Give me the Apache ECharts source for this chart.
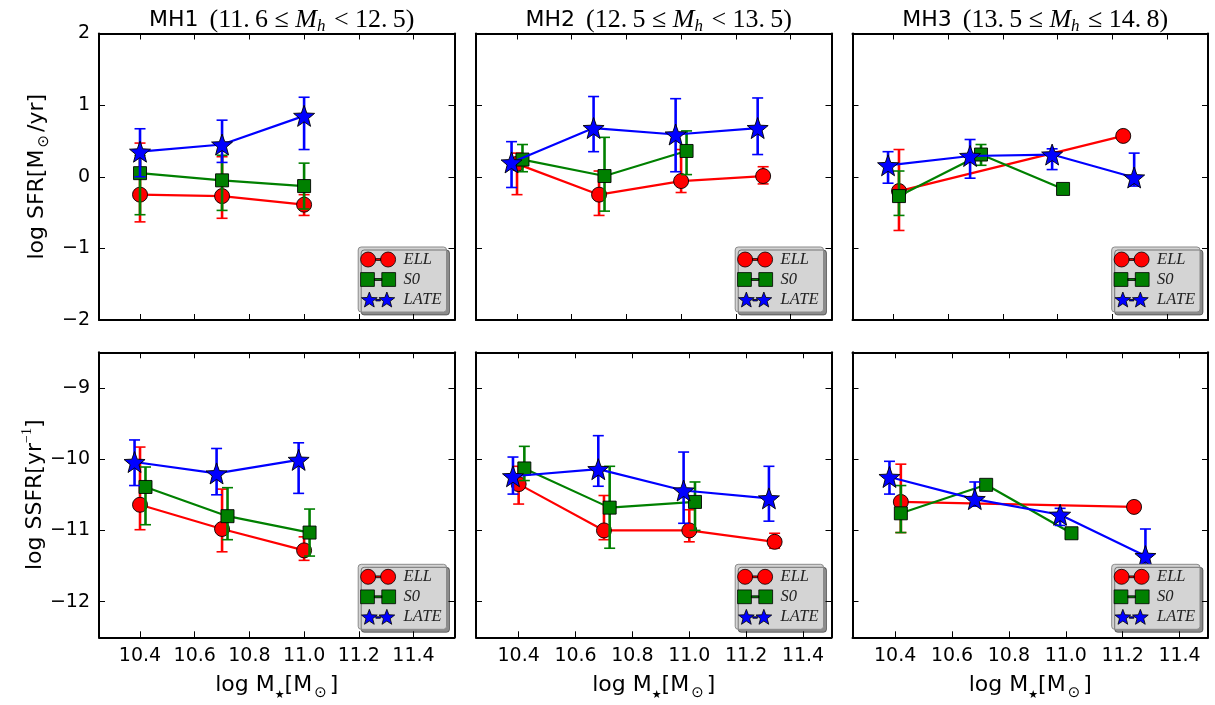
<!DOCTYPE html>
<html><head><meta charset="utf-8">
<script src="https://cdn.jsdelivr.net/npm/echarts@6/dist/echarts.min.js"></script>
<style>html,body{margin:0;padding:0;background:#fff}#c{width:1215px;height:705px}</style>
</head><body><div id="c"></div>
<script>
// ---------------- DATA (x, y, lower bound, upper bound) ----------------
const typeNames = ['ELL', 'S0', 'LATE'];
const titleBins = [['MH1', '11.6', '<', '12.5'], ['MH2', '12.5', '<', '13.5'], ['MH3', '13.5', '\u2264', '14.8']];
const xTickValues = [10.4, 10.6, 10.8, 11.0, 11.2, 11.4];
const sfrTickValues = [-2, -1, 0, 1, 2];
const ssfrTickValues = [-12, -11, -10, -9];

// top row: log SFR
const sfrMH1_ELL  = [[10.40, -0.25, -0.63, 0.47], [10.70, -0.27, -0.58, 0.28], [11.00, -0.39, -0.54, -0.25]];
const sfrMH1_S0   = [[10.40, 0.05, -0.53, 0.30], [10.70, -0.05, -0.47, 0.30], [11.00, -0.13, -0.45, 0.19]];
const sfrMH1_LATE = [[10.40, 0.35, 0.00, 0.67], [10.70, 0.45, 0.20, 0.79], [11.00, 0.85, 0.38, 1.11]];

const sfrMH2_ELL  = [[10.40, 0.18, -0.25, 0.33], [10.70, -0.25, -0.54, 0.08], [11.00, -0.06, -0.22, 0.38], [11.30, 0.01, -0.10, 0.14]];
const sfrMH2_S0   = [[10.42, 0.24, 0.07, 0.45], [10.72, 0.01, -0.48, 0.55], [11.02, 0.36, 0.03, 0.64]];
const sfrMH2_LATE = [[10.38, 0.20, -0.15, 0.49], [10.68, 0.68, 0.35, 1.12], [10.98, 0.59, 0.07, 1.09], [11.28, 0.68, 0.31, 1.10]];

const sfrMH3_ELL  = [[10.42, -0.20, -0.75, 0.38], [11.24, 0.57, null, null]];
const sfrMH3_S0   = [[10.42, -0.27, -0.54, 0.08], [10.72, 0.31, 0.16, 0.45], [11.02, -0.17, null, null]];
const sfrMH3_LATE = [[10.38, 0.16, -0.09, 0.35], [10.68, 0.29, -0.02, 0.52], [10.98, 0.31, 0.10, 0.39], [11.28, -0.01, -0.13, 0.33]];

// bottom row: log SSFR
const ssfrMH1_ELL  = [[10.40, -10.64, -10.99, -9.83], [10.70, -10.98, -11.30, -10.42], [11.00, -11.28, -11.42, -11.09]];
const ssfrMH1_S0   = [[10.42, -10.39, -10.92, -10.11], [10.72, -10.80, -11.13, -10.40], [11.02, -11.03, -11.36, -10.70]];
const ssfrMH1_LATE = [[10.38, -10.04, -10.37, -9.73], [10.68, -10.20, -10.50, -9.85], [10.98, -10.01, -10.48, -9.77]];

const ssfrMH2_ELL  = [[10.40, -10.35, -10.63, -10.10], [10.70, -11.00, -11.13, -10.51], [11.00, -11.00, -11.16, -10.71], [11.30, -11.16, -11.25, -11.04]];
const ssfrMH2_S0   = [[10.42, -10.13, -10.30, -9.82], [10.72, -10.68, -11.25, -10.10], [11.02, -10.60, -11.00, -10.32]];
const ssfrMH2_LATE = [[10.38, -10.24, -10.49, -9.97], [10.68, -10.14, -10.38, -9.67], [10.98, -10.44, -10.90, -9.90], [11.28, -10.55, -10.87, -10.10]];

const ssfrMH3_ELL  = [[10.42, -10.60, -11.03, -10.07], [11.24, -10.67, null, null]];
const ssfrMH3_S0   = [[10.42, -10.76, -11.03, -10.37], [10.72, -10.36, null, null], [11.02, -11.04, null, null]];
const ssfrMH3_LATE = [[10.38, -10.25, -10.49, -10.03], [10.68, -10.56, -10.66, -10.32], [10.98, -10.78, -10.93, -10.69], [11.28, -11.36, -11.55, -10.98]];

const panelData = [
  [sfrMH1_ELL, sfrMH1_S0, sfrMH1_LATE],
  [sfrMH2_ELL, sfrMH2_S0, sfrMH2_LATE],
  [sfrMH3_ELL, sfrMH3_S0, sfrMH3_LATE],
  [ssfrMH1_ELL, ssfrMH1_S0, ssfrMH1_LATE],
  [ssfrMH2_ELL, ssfrMH2_S0, ssfrMH2_LATE],
  [ssfrMH3_ELL, ssfrMH3_S0, ssfrMH3_LATE]
];
const xRanges = [[10.25, 11.55], [10.25, 11.55], [10.25, 11.55], [10.25, 11.55], [10.25, 11.5], [10.25, 11.5]];
const yRanges = [[-2, 2], [-2, 2], [-2, 2], [-12.5, -8.5], [-12.5, -8.5], [-12.5, -8.5]];

// ---------------- STYLE / LAYOUT ----------------
const colors = ['#ff0000', '#008000', '#0000ff'];
const colLeft = [99, 476, 852.5];
const panelW = 355.5;
const rowTop = [33.5, 352.3];
const panelH = [286.5, 285];

function starPts(cx, cy, R, r) {
  const pts = [];
  for (let i = 0; i < 10; i++) {
    const a = -Math.PI / 2 + i * Math.PI / 5;
    const rad = i % 2 === 0 ? R : r;
    pts.push([cx + rad * Math.cos(a), cy + rad * Math.sin(a)]);
  }
  return 'M' + pts.map(p => p[0].toFixed(2) + ',' + p[1].toFixed(2)).join('L') + 'Z';
}
const starSymbol = 'path://' + starPts(10, 10, 10, 4.2);
const symbols = ['circle', 'rect', starSymbol];
const symbolSizes = [15, 13, 21];

const legendIcons = [
  'path://M0,7.5A7.5,7.5,0,1,1,15,7.5A7.5,7.5,0,1,1,0,7.5Z M20,7.5A7.5,7.5,0,1,1,35,7.5A7.5,7.5,0,1,1,20,7.5Z M15,6.6L20,6.6L20,8.4L15,8.4Z',
  'path://M1,1L14,1L14,14L1,14Z M21,1L34,1L34,14L21,14Z M14,6.6L21,6.6L21,8.4L14,8.4Z',
  'path://' + starPts(8, 8.5, 9, 3.8) + ' ' + starPts(27, 8.5, 9, 3.8) + ' M15,7.6L20,7.6L20,9.2L15,9.2Z'
];

const fmtNum = v => (v < 0 ? '\u2212' + Math.abs(v) : String(v));

const grids = [], xAxes = [], yAxes = [], series = [], titles = [], legends = [];
const axisLineStyle = { show: true, onZero: false, lineStyle: { color: '#000', width: 2 } };
const tickStyle = { show: true, inside: true, length: 6, lineStyle: { color: '#000', width: 1 } };

const richMain = { fontFamily: 'DejaVu Sans', fontSize: 22, fontWeight: 'normal', color: '#000', lineHeight: 30, verticalAlign: 'middle' };

for (let p = 0; p < 6; p++) {
  const row = p < 3 ? 0 : 1, col = p % 3;
  const left = colLeft[col], top = rowTop[row], h = panelH[row];
  grids.push({ left: left, top: top, width: panelW, height: h, show: false });
  const isBottom = row === 1, isLeft = col === 0;
  const yTicks = row === 0 ? sfrTickValues : ssfrTickValues;
  // bottom x
  xAxes.push({
    type: 'value', gridIndex: p, position: 'bottom', min: xRanges[p][0], max: xRanges[p][1],
    axisLine: axisLineStyle, splitLine: { show: false },
    axisTick: Object.assign({ customValues: xTickValues }, tickStyle),
    axisLabel: { show: isBottom, customValues: xTickValues, formatter: v => v.toFixed(1), fontFamily: 'DejaVu Sans', fontSize: 19, color: '#000', margin: 9 },
    name: isBottom ? '{a|log M}{s|\u2605}{a|[M}{o|\u2299}{a|]}' : '', nameLocation: 'middle', nameGap: 33,
    nameTextStyle: { rich: { a: richMain, s: { fontFamily: 'DejaVu Sans', fontSize: 11, color: '#000', lineHeight: 14, verticalAlign: 'bottom' }, o: { fontFamily: 'DejaVu Sans', fontSize: 15, color: '#000', lineHeight: 16, verticalAlign: 'bottom', padding: [0, 3, 0, 2] } } }
  });
  // top x
  xAxes.push({
    type: 'value', gridIndex: p, position: 'top', min: xRanges[p][0], max: xRanges[p][1],
    axisLine: axisLineStyle, splitLine: { show: false },
    axisTick: Object.assign({ customValues: xTickValues }, tickStyle),
    axisLabel: { show: false }
  });
  // left y
  let yName = '';
  if (isLeft) {
    yName = row === 0 ? '{a|log SFR[M}{o|\u2299}{a|/yr]}' : '{a|log SSFR[yr}{u|\u22121}{a|]}';
  }
  yAxes.push({
    type: 'value', gridIndex: p, position: 'left', min: yRanges[p][0], max: yRanges[p][1],
    axisLine: axisLineStyle, splitLine: { show: false },
    axisTick: Object.assign({ customValues: yTicks }, tickStyle),
    axisLabel: { show: isLeft, customValues: yTicks, formatter: fmtNum, fontFamily: 'DejaVu Sans', fontSize: 19, color: '#000', margin: 9 },
    name: yName, nameLocation: 'middle', nameRotate: 90, nameGap: 47,
    nameTextStyle: { rich: { a: richMain, o: { fontFamily: 'DejaVu Sans', fontSize: 15, color: '#000', lineHeight: 16, verticalAlign: 'bottom', padding: [0, 3, 0, 2] }, u: { fontFamily: 'Liberation Serif', fontSize: 14, color: '#000', lineHeight: 14, verticalAlign: 'top' } } }
  });
  // right y
  yAxes.push({
    type: 'value', gridIndex: p, position: 'right', min: yRanges[p][0], max: yRanges[p][1],
    axisLine: axisLineStyle, splitLine: { show: false },
    axisTick: Object.assign({ customValues: yTicks }, tickStyle),
    axisLabel: { show: false }
  });

  // series
  for (let t = 0; t < 3; t++) {
    const rows = panelData[p][t];
    const color = colors[t];
    const errRows = rows.filter(r => r[2] != null && r[3] != null).map(r => [r[0], r[2], r[3]]);
    series.push({
      type: 'custom', name: typeNames[t] + ' err', xAxisIndex: 2 * p, yAxisIndex: 2 * p, z: 2 + 2 * t,
      data: errRows, encode: { x: 0, y: [1, 2] }, silent: true,
      renderItem: (params, api) => {
        const x = api.value(0), lo = api.value(1), hi = api.value(2);
        const a = api.coord([x, lo]), b = api.coord([x, hi]);
        const cw = 5.5;
        const st = { stroke: color, lineWidth: 2.6 };
        const st2 = { stroke: color, lineWidth: 1.6 };
        return {
          type: 'group', children: [
            { type: 'line', shape: { x1: a[0], y1: a[1], x2: b[0], y2: b[1] }, style: st },
            { type: 'line', shape: { x1: a[0] - cw, y1: a[1], x2: a[0] + cw, y2: a[1] }, style: st2 },
            { type: 'line', shape: { x1: b[0] - cw, y1: b[1], x2: b[0] + cw, y2: b[1] }, style: st2 }
          ]
        };
      }
    });
    series.push({
      type: 'line', name: typeNames[t], xAxisIndex: 2 * p, yAxisIndex: 2 * p, z: 3 + 2 * t,
      data: rows.map(r => [r[0], r[1]]),
      symbol: symbols[t], symbolSize: symbolSizes[t], showSymbol: true, animation: false,
      itemStyle: { color: color, borderColor: '#000', borderWidth: 0.9, opacity: 1 },
      lineStyle: { color: color, width: 2.2 },
      emphasis: { disabled: true }, silent: true
    });
  }

  // title (top row)
  if (row === 0) {
    const tb = titleBins[col];
    titles.push({
      left: left + panelW / 2, top: 0, textAlign: 'center',
      text: '{a|' + tb[0] + '\u2002}{b|(' + tb[1].replace('.', '.\u2009') + ' \u2264 }{c|M}{d|h}{b| ' + tb[2] + ' ' + tb[3].replace('.', '.\u2009') + ')}',
      textStyle: {
        fontWeight: 'normal',
        rich: {
          a: { fontFamily: 'DejaVu Sans', fontSize: 22, fontWeight: 'normal', color: '#000', lineHeight: 30, verticalAlign: 'middle' },
          b: { fontFamily: 'Liberation Serif', fontSize: 26, fontWeight: 'normal', color: '#000', lineHeight: 30, verticalAlign: 'middle' },
          c: { fontFamily: 'Liberation Serif', fontStyle: 'italic', fontSize: 26, fontWeight: 'normal', color: '#000', lineHeight: 30, verticalAlign: 'middle' },
          d: { fontFamily: 'Liberation Serif', fontStyle: 'italic', fontSize: 17, fontWeight: 'normal', color: '#000', lineHeight: 14, verticalAlign: 'bottom', padding: [0, 2, 0, 0] }
        }
      }
    });
  }

  // legend
  legends.push({
    right: 1215 - (left + panelW - 8), bottom: 705 - (top + h - 8),
    orient: 'vertical', itemWidth: 35, itemHeight: 15, itemGap: 3,
    padding: [4, 5, 4, 2], z: 20, selectedMode: false,
    backgroundColor: '#d4d4d4', borderColor: '#8a8a8a', borderWidth: 1, borderRadius: 3,
    shadowColor: 'rgba(0,0,0,0.45)', shadowBlur: 0, shadowOffsetX: 3, shadowOffsetY: 3,
    itemStyle: { borderColor: '#000', borderWidth: 0.8 },
    textStyle: { fontFamily: 'Liberation Serif', fontStyle: 'italic', fontSize: 16.5, lineHeight: 17, color: '#222', padding: [0, 0, 0, 3] },
    data: typeNames.map((n, i) => ({ name: n, icon: legendIcons[i] }))
  });
}

const chart = echarts.init(document.getElementById('c'), null, { renderer: 'canvas' });
chart.setOption({
  animation: false,
  backgroundColor: '#fff',
  title: titles,
  grid: grids,
  xAxis: xAxes,
  yAxis: yAxes,
  legend: legends,
  series: series
});
</script></body></html>
